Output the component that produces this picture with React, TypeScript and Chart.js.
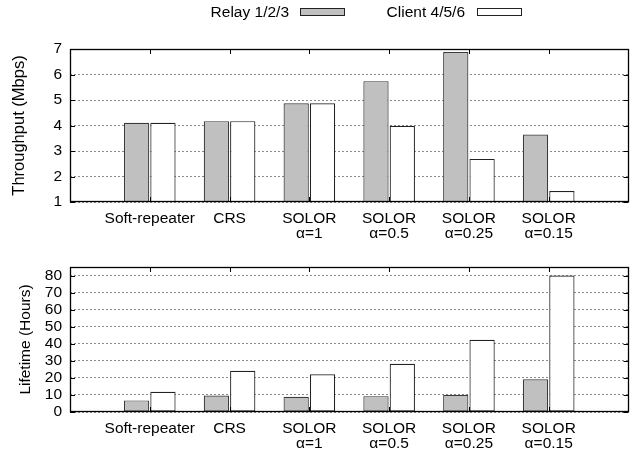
import React, { useEffect, useRef } from 'react';
import { Chart, registerables } from 'chart.js';

Chart.register(...registerables);

// ---- data ----
const categories: (string | string[])[] = [
  '',
  'Soft-repeater',
  'CRS',
  ['SOLOR', 'α=1'],
  ['SOLOR', 'α=0.5'],
  ['SOLOR', 'α=0.25'],
  ['SOLOR', 'α=0.15'],
  '',
];
const seriesNames = ['Relay 1/2/3', 'Client 4/5/6'];
const throughputRelay = [null, 4.11, 4.17, 4.87, 5.74, 6.88, 3.65, null];
const throughputClient = [null, 4.11, 4.17, 4.87, 3.99, 2.69, 1.43, null];
const lifetimeRelay = [null, 6.8, 9.7, 8.9, 9.3, 10.1, 19.2, null];
const lifetimeClient = [null, 11.8, 24.2, 22.1, 28.3, 42.3, 80, null];
const throughputTicks = [1, 2, 3, 4, 5, 6, 7];
const lifetimeTicks = [0, 10, 20, 30, 40, 50, 60, 70, 80];

const FONT = "'Liberation Sans', Arial, Helvetica, sans-serif";
const GRAY = '#c0c0c0';

const framePlugin = {
  id: 'gnuFrame',
  afterDatasetsDraw(chart: any) {
    const { ctx, chartArea } = chart;
    const { left, right, top, bottom } = chartArea;
    const x = chart.scales.x;
    const y = chart.scales.y;
    ctx.save();
    ctx.strokeStyle = '#000';
    ctx.lineWidth = 1;
    ctx.beginPath();
    for (let i = 1; i < categories.length - 1; i++) {
      const px = Math.round(x.getPixelForValue(i)) + 0.5;
      ctx.moveTo(px, top);
      ctx.lineTo(px, top + 5);
      ctx.moveTo(px, bottom);
      ctx.lineTo(px, bottom - 5);
    }
    y.ticks.forEach((t: any) => {
      const py = Math.round(y.getPixelForValue(t.value)) + 0.5;
      ctx.moveTo(left, py);
      ctx.lineTo(left + 5, py);
      ctx.moveTo(right, py);
      ctx.lineTo(right - 5, py);
    });
    ctx.stroke();
    ctx.lineWidth = 1.3;
    ctx.strokeRect(Math.round(left) + 0.5, Math.round(top) + 0.5, Math.round(right - left) - 1, Math.round(bottom - top) - 1);
    ctx.restore();
  },
};

const legendPlugin = {
  id: 'gnuLegend',
  afterDraw(chart: any) {
    const { ctx } = chart;
    const items = [
      { textRight: 289, boxLeft: 300 },
      { textRight: 465, boxLeft: 477 },
    ];
    ctx.save();
    ctx.font = `15.5px ${FONT}`;
    ctx.textAlign = 'right';
    ctx.textBaseline = 'middle';
    chart.data.datasets.forEach((ds: any, i: number) => {
      const it = items[i];
      ctx.fillStyle = '#000';
      ctx.fillText(ds.label, it.textRight, 13);
      ctx.fillStyle = ds.backgroundColor;
      ctx.fillRect(it.boxLeft + 0.5, 8.5, 44, 7);
      ctx.strokeStyle = '#222';
      ctx.lineWidth = 1;
      ctx.strokeRect(it.boxLeft + 0.5, 8.5, 44, 7);
    });
    ctx.restore();
  },
};

function makeConfig(
  relay: (number | null)[],
  client: (number | null)[],
  yMin: number,
  yMax: number,
  ticks: number[],
  title: string,
  titleSize: number,
  titlePad: number,
  padTop: number,
  xHeight: number,
  withLegend: boolean
): any {
  return {
    type: 'bar',
    data: {
      labels: categories,
      datasets: [
        {
          label: seriesNames[0],
          data: relay,
          backgroundColor: GRAY,
          borderColor: '#3a3a3a',
          borderWidth: 1.2,
          borderSkipped: false,
          categoryPercentage: 0.66,
          barPercentage: 0.96,
        },
        {
          label: seriesNames[1],
          data: client,
          backgroundColor: '#ffffff',
          borderColor: '#222',
          borderWidth: 1.2,
          borderSkipped: false,
          categoryPercentage: 0.66,
          barPercentage: 0.96,
        },
      ],
    },
    options: {
      responsive: false,
      animation: false,
      devicePixelRatio: 1,
      layout: { padding: { top: padTop, right: 1, left: 0, bottom: 0 } },
      plugins: {
        legend: { display: false },
        tooltip: { enabled: false },
      },
      scales: {
        x: {
          type: 'category',
          offset: false,
          grid: { display: false, drawTicks: false },
          border: { display: false },
          ticks: {
            autoSkip: false,
            maxRotation: 0,
            minRotation: 0,
            padding: 8.5,
            color: '#000',
            font: { family: FONT, size: 15.5, lineHeight: 1.0 },
          },
          afterFit: (s: any) => {
            s.height = xHeight;
          },
        },
        y: {
          type: 'linear',
          min: yMin,
          max: yMax,
          afterBuildTicks: (s: any) => {
            s.ticks = ticks.map((v) => ({ value: v }));
          },
          grid: {
            color: '#8a8a8a',
            lineWidth: 1,
            drawTicks: false,
          },
          border: { display: false, dash: [2, 2] },
          ticks: {
            autoSkip: false,
            padding: 8,
            color: '#000',
            font: { family: FONT, size: 15.5 },
          },
          title: {
            display: true,
            text: title,
            color: '#000',
            font: { family: FONT, size: titleSize, lineHeight: 1.2 },
            padding: { top: titlePad, bottom: 0 },
          },
          afterFit: (s: any) => {
            s.width = 70;
          },
        },
      },
    },
    plugins: withLegend ? [framePlugin, legendPlugin] : [framePlugin],
  };
}

export default function App() {
  const ref1 = useRef<HTMLCanvasElement>(null);
  const ref2 = useRef<HTMLCanvasElement>(null);

  useEffect(() => {
    const c1 = new Chart(
      ref1.current as HTMLCanvasElement,
      makeConfig(throughputRelay, throughputClient, 1, 7, throughputTicks, 'Throughput (Mbps)', 16.5, 10, 49, 43, true)
    );
    const c2 = new Chart(
      ref2.current as HTMLCanvasElement,
      makeConfig(lifetimeRelay, lifetimeClient, 0, 85, lifetimeTicks, 'Lifetime (Hours)', 15.5, 16, 22, 40, false)
    );
    return () => {
      c1.destroy();
      c2.destroy();
    };
  }, []);

  return (
    <div style={{ position: 'fixed', left: 0, top: 0, width: 637, height: 452, background: '#fff' }}>
      <canvas ref={ref1} width={637} height={245} style={{ position: 'absolute', left: 0, top: 0, display: 'block' }} />
      <canvas ref={ref2} width={637} height={207} style={{ position: 'absolute', left: 0, top: 245, display: 'block' }} />
    </div>
  );
}
